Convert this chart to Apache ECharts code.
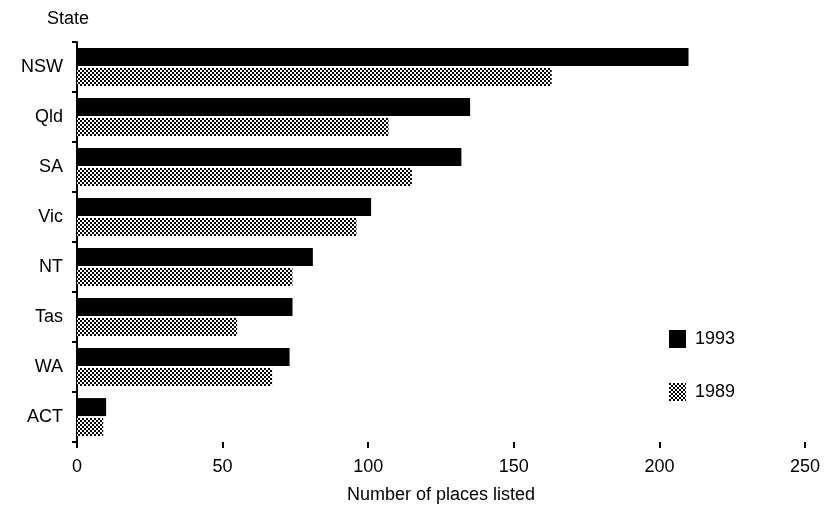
<!DOCTYPE html>
<html><head><meta charset="utf-8">
<script src="https://cdn.jsdelivr.net/npm/echarts@6/dist/echarts.min.js"></script>
<style>html,body{margin:0;padding:0;background:#fff}#c{width:828px;height:506px}</style>
</head><body><div id="c"></div>
<script>
const states = ['NSW','Qld','SA','Vic','NT','Tas','WA','ACT'];
const v1993 = [210, 135, 132, 101, 81, 74, 73, 10];
const v1989 = [163, 107, 115, 96, 74, 55, 67, 9];
const xTicks = [0, 50, 100, 150, 200, 250];

function makePattern(){
  const c = document.createElement('canvas');
  c.width = 4; c.height = 4;
  const g = c.getContext('2d');
  g.fillStyle = '#fff'; g.fillRect(0,0,4,4);
  g.fillStyle = '#000'; g.fillRect(0,0,2,2); g.fillRect(2,2,2,2);
  return c;
}
const pat = {image: makePattern(), repeat: 'repeat'};
const font = 'Liberation Sans, Arial, sans-serif';

const chart = echarts.init(document.getElementById('c'));
chart.setOption({
  animation: false,
  backgroundColor: '#fff',
  grid: {left: 77, right: 23, top: 42, bottom: 64, containLabel: false, outerBoundsMode: 'none'},
  legend: {
    orient: 'vertical', left: 664, top: 325, itemGap: 35,
    itemWidth: 17, itemHeight: 18, icon: 'rect',
    textStyle: {fontFamily: font, fontSize: 18, color: '#000', padding: [0,0,0,4]},
    data: ['1993','1989']
  },
  xAxis: {
    type: 'value', min: xTicks[0], max: xTicks[xTicks.length-1], interval: 50,
    name: 'Number of places listed', nameLocation: 'middle', nameGap: 44,
    nameTextStyle: {fontFamily: font, fontSize: 18, color: '#000'},
    axisLine: {lineStyle: {color: '#000', width: 2}},
    axisTick: {show: true, length: 6, lineStyle: {color: '#000', width: 2}},
    axisLabel: {fontFamily: font, fontSize: 18, color: '#000', margin: 16},
    splitLine: {show: false}
  },
  yAxis: {
    type: 'category', data: states, inverse: true,
    name: 'State', nameLocation: 'start', nameGap: 14,
    nameTextStyle: {fontFamily: font, fontSize: 18, color: '#000', align: 'right', padding: [0, -12, 0, 0]},
    axisLine: {lineStyle: {color: '#000', width: 2}},
    axisTick: {show: true, length: 5, lineStyle: {color: '#000', width: 2}},
    axisLabel: {fontFamily: font, fontSize: 18, color: '#000', margin: 14}
  },
  series: [
    {name: '1993', type: 'bar', data: v1993, barWidth: 18, barGap: '10%',
     itemStyle: {color: '#000'}},
    {name: '1989', type: 'bar', data: v1989, barWidth: 18,
     itemStyle: {color: pat}}
  ]
});
</script></body></html>
